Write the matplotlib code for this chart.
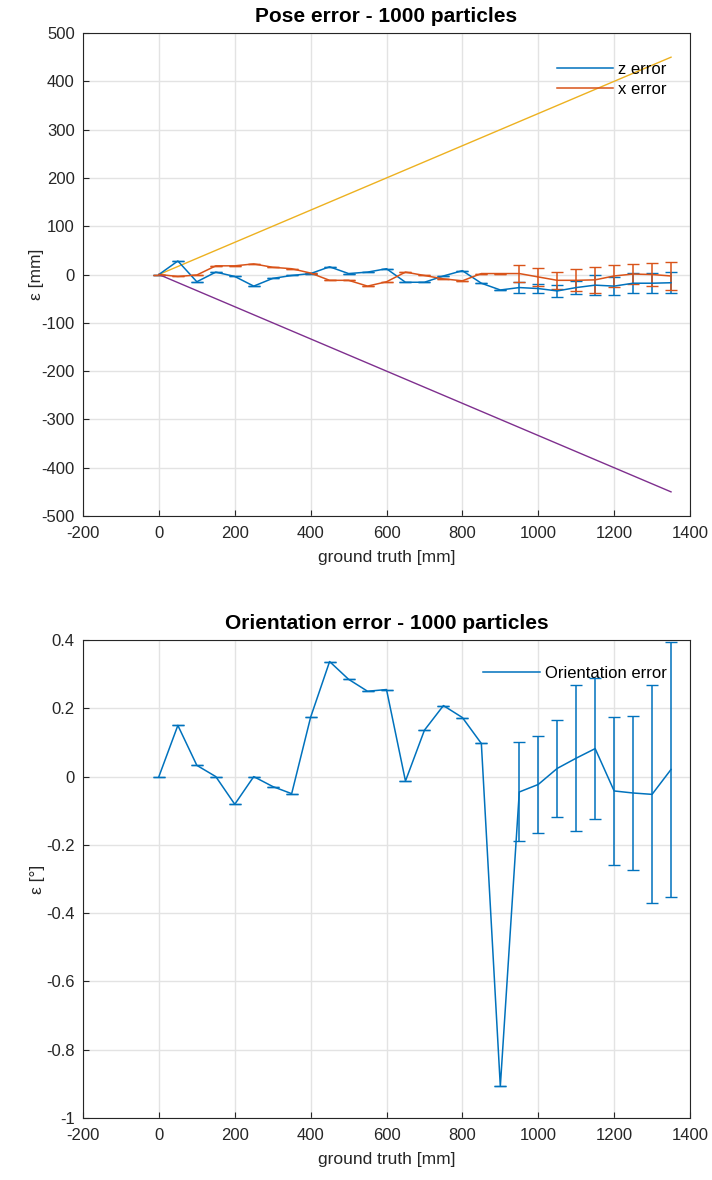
import numpy as np
import matplotlib
matplotlib.use('agg')
import matplotlib.pyplot as plt  # noqa: E402
from matplotlib.lines import Line2D  # noqa: E402

plt.rcParams['font.family'] = ['Liberation Sans', 'DejaVu Sans']
plt.rcParams['axes.unicode_minus'] = False

# ground truth positions [mm]
gt = [0, 50, 100, 150, 200, 250, 300, 350, 400, 450, 500, 550, 600, 650,
      700, 750, 800, 850, 900, 950, 1000, 1050, 1100, 1150, 1200, 1250,
      1300, 1350]

# pose errors [mm]
z_err = [0, 28, -15, 5, -4, -24, -8, -2, 2, 16, 2, 5, 12, -16,
         -16, -3, 8, -18, -32, -27, -29, -34, -27, -22, -24, -18,
         -18, -17]
z_std = [0] * 19 + [12, 10, 12, 14, 21, 19, 21, 21, 22]
x_err = [0, -4, -1, 18, 18, 22, 15, 12, 3, -12, -12, -24, -15, 5,
         -2, -9, -13, 2, 2, 2, -5, -12, -12, -11, -3, 1,
         0, -3]
x_std = [0] * 19 + [17, 19, 18, 23, 27, 22, 21, 24, 29]

# bounds
bound_x = [0, 1350]
bound_up = [0, 450]
bound_lo = [0, -450]

# orientation error [deg]
o_err = [0, 0.15, 0.033, 0.0, -0.081, 0.0, -0.029, -0.05, 0.174, 0.337,
         0.285, 0.25, 0.255, -0.013, 0.136, 0.208, 0.173, 0.097, -0.907,
         -0.045, -0.023, 0.024, 0.054, 0.082, -0.042, -0.048, -0.052, 0.021]
o_std = [0] * 19 + [0.145, 0.143, 0.141, 0.213, 0.206, 0.217, 0.226, 0.319, 0.373]

blue = '#0072BD'
orange = '#D95319'
yellow = '#EDB120'
purple = '#7E2F8E'
axcol = '#262626'

fig = plt.figure(figsize=(7.12, 11.8), dpi=100)
ax1 = fig.add_axes([0.1166, 0.5627, 0.8525, 0.4093])
ax2 = fig.add_axes([0.1166, 0.0525, 0.8525, 0.4051])


def style(ax):
    ax.grid(True, color='#e3e3e3', linewidth=1.0)
    ax.set_axisbelow(True)
    ax.tick_params(direction='in', labelsize=12, length=4, width=0.8, pad=7,
                   colors=axcol, top=False, right=False)
    ax.tick_params(axis='y', pad=6)
    for s in ax.spines.values():
        s.set_linewidth(0.8)
        s.set_color(axcol)


def legend(ax, handles, labels, top):
    ax.legend(handles, labels, loc='upper right', bbox_to_anchor=(0.962, top),
              frameon=False, fontsize=12, handlelength=3.4, handletextpad=0.3,
              labelspacing=0.3, borderpad=0, borderaxespad=0)


# top plot
ax1.errorbar(gt, z_err, yerr=z_std, color=blue, lw=1.1, capsize=4, elinewidth=1.1)
ax1.errorbar(gt, x_err, yerr=x_std, color=orange, lw=1.1, capsize=4, elinewidth=1.1)
ax1.plot(bound_x, bound_up, color=yellow, lw=1.0)
ax1.plot(bound_x, bound_lo, color=purple, lw=1.0)
ax1.set_xlim(-200, 1400)
ax1.set_ylim(-500, 500)
ax1.set_xticks(np.arange(-200, 1401, 200))
ax1.set_yticks(np.arange(-500, 501, 100))
ax1.set_title('Pose error - 1000 particles', fontsize=15, fontweight='bold', pad=8)
ax1.set_xlabel('ground truth [mm]', fontsize=12.5, color=axcol, labelpad=7)
ax1.set_ylabel('ε [mm]', fontsize=12.5, color=axcol, labelpad=-2)
style(ax1)
legend(ax1, [Line2D([], [], color=blue, lw=1.1), Line2D([], [], color=orange, lw=1.1)],
       ['z error', 'x error'], 0.94)

# bottom plot
ax2.errorbar(gt, o_err, yerr=o_std, color=blue, lw=1.1, capsize=4, elinewidth=1.1)
ax2.set_xlim(-200, 1400)
ax2.set_ylim(-1, 0.4)
ax2.set_xticks(np.arange(-200, 1401, 200))
ax2.set_yticks([-1, -0.8, -0.6, -0.4, -0.2, 0, 0.2, 0.4])
ax2.set_yticklabels(['-1', '-0.8', '-0.6', '-0.4', '-0.2', '0', '0.2', '0.4'])
ax2.set_title('Orientation error - 1000 particles', fontsize=15, fontweight='bold', pad=8)
ax2.set_xlabel('ground truth [mm]', fontsize=12.5, color=axcol, labelpad=7)
ax2.set_ylabel('ε [°]', fontsize=12.5, color=axcol, labelpad=1)
style(ax2)
legend(ax2, [Line2D([], [], color=blue, lw=1.1)], ['Orientation error'], 0.946)

fig.savefig('out.png', dpi=100)
